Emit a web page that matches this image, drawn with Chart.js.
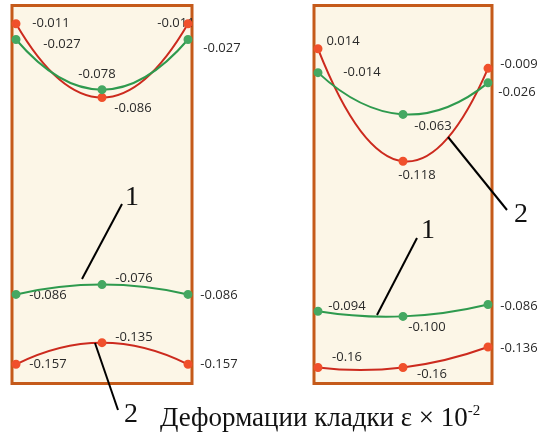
<!DOCTYPE html>
<html>
<head>
<meta charset="utf-8">
<script src="https://cdn.jsdelivr.net/npm/chart.js@4"></script>
<style>
  body { margin: 0; background: #fff; }
  #wrap { position: relative; width: 548px; height: 436px; overflow: hidden; }
  #leftChart { position: absolute; left: 0; top: 0; }
  #rightChart { position: absolute; left: 300px; top: 0; }
  #caption {
    position: absolute; left: 160px; top: 404px;
    font: 27px/27px "Liberation Serif", "Times New Roman", serif;
    color: #111; white-space: nowrap;
  }
  #caption .pow { position: relative; top: -11px; font-size: 15px; }
</style>
</head>
<body>
<div id="wrap">
  <canvas id="leftChart" width="300" height="436"></canvas>
  <canvas id="rightChart" width="248" height="436"></canvas>
  <div id="caption">Деформации кладки ε × 10<span class="pow">-2</span></div>
</div>
<script>
const positions = ['left', 'middle', 'right'];

// left wall, upper and lower section
const leftTopGreen = [-0.027, -0.078, -0.027];
const leftTopRed = [-0.011, -0.086, -0.011];
const leftBottomGreen = [-0.086, -0.076, -0.086];
const leftBottomRed = [-0.157, -0.135, -0.157];

// right wall, upper and lower section
const rightTopGreen = [-0.014, -0.063, -0.026];
const rightTopRed = [0.014, -0.118, -0.009];
const rightBottomGreen = [-0.094, -0.100, -0.086];
const rightBottomRed = [-0.16, -0.16, -0.136];

const GREEN = '#2e9a4e', GREEN_PT = '#45a862';
const RED = '#cc2a1e', RED_PT = '#f0502c';
const BORDER = '#c55a1a', PANEL = '#fcf6e7';

function series(data, line, point, axis, offsets, digits) {
    return {
        data: data,
        yAxisID: axis,
        borderColor: line,
        borderWidth: 2,
        pointBackgroundColor: point,
        pointBorderColor: point,
        pointRadius: 3.5,
        tension: 0.4,
        clip: false,
        labelOffsets: offsets,
        digits: digits || [3, 3, 3]
    };
}

// replace the spline handles with ones for the parabola through the three points
const parabolaPlugin = {
    id: 'parabola',
    beforeDatasetsDraw(chart) {
        chart.data.datasets.forEach(function(ds, i) {
            const meta = chart.getDatasetMeta(i);
            const pts = meta.data;
            if (pts.length !== 3) return;
            meta.dataset.updateControlPoints(chart.chartArea, 'x');
            const x0 = pts[0].x, x1 = pts[1].x, x2 = pts[2].x;
            const d1 = (pts[1].y - pts[0].y) / (x1 - x0);
            const d12 = (pts[2].y - pts[1].y) / (x2 - x1);
            const d2 = (d12 - d1) / (x2 - x0);
            const slope = function(x) { return d1 + d2 * ((x - x0) + (x - x1)); };
            for (let k = 0; k < 2; k++) {
                const a = pts[k], b = pts[k + 1];
                const h = (b.x - a.x) / 3;
                a.cp2x = a.x + h;
                a.cp2y = a.y + h * slope(a.x);
                b.cp1x = b.x - h;
                b.cp1y = b.y - h * slope(b.x);
            }
        });
    }
};

// panel frame + value labels, callout lines with numbers
const panelPlugin = {
    id: 'panel',
    beforeDatasetsDraw(chart, args, opts) {
        const ctx = chart.ctx;
        const a = chart.chartArea;
        ctx.save();
        ctx.fillStyle = PANEL;
        ctx.fillRect(a.left - 3, a.top - 1, a.width + 6, a.height + 2);
        ctx.strokeStyle = BORDER;
        ctx.lineWidth = 3;
        ctx.strokeRect(a.left - 4, a.top - 1.5, a.width + 8, a.height + 3);

        ctx.font = '13px "Open Sans", sans-serif';
        ctx.fillStyle = '#2a2a2a';
        ctx.textAlign = 'center';
        ctx.textBaseline = 'middle';
        chart.data.datasets.forEach(function(ds, i) {
            chart.getDatasetMeta(i).data.forEach(function(pt, j) {
                const off = ds.labelOffsets[j];
                ctx.fillText(ds.data[j].toFixed(ds.digits[j]), pt.x + off[0], pt.y + off[1]);
            });
        });
        ctx.restore();
    },
    afterDraw(chart, args, opts) {
        const ctx = chart.ctx;
        ctx.save();
        ctx.strokeStyle = '#000';
        ctx.lineWidth = 2;
        ctx.fillStyle = '#111';
        ctx.font = '28px "Liberation Serif", "Times New Roman", serif';
        ctx.textAlign = 'center';
        ctx.textBaseline = 'alphabetic';
        (opts.callouts || []).forEach(function(c) {
            ctx.beginPath();
            ctx.moveTo(c.from[0], c.from[1]);
            ctx.lineTo(c.to[0], c.to[1]);
            ctx.stroke();
            ctx.fillText(c.text, c.at[0], c.at[1]);
        });
        ctx.restore();
    }
};

function makeChart(id, datasets, topRange, padding, callouts) {
    new Chart(document.getElementById(id), {
        type: 'line',
        data: { labels: positions, datasets: datasets },
        options: {
            responsive: false,
            animation: false,
            layout: { padding: padding },
            plugins: {
                legend: { display: false },
                tooltip: { enabled: false },
                panel: { callouts: callouts }
            },
            scales: {
                x: { display: false },
                yTop: { display: false, min: topRange[0], max: topRange[1] },
                // lower section drawn 0.2 below the upper one
                yBottom: { display: false, min: topRange[0] + 0.2, max: topRange[1] + 0.2 }
            }
        },
        plugins: [panelPlugin, parabolaPlugin]
    });
}

makeChart('leftChart', [
    series(leftTopGreen, GREEN, GREEN_PT, 'yTop', [[46, 5], [-5, -15], [34, 9]]),
    series(leftTopRed, RED, RED_PT, 'yTop', [[35, 0], [31, 11], [-12, 0]]),
    series(leftBottomGreen, GREEN, GREEN_PT, 'yBottom', [[32, 1], [32, -6], [31, 1]]),
    series(leftBottomRed, RED, RED_PT, 'yBottom', [[32, 0], [32, -5], [31, 0]])
], [-0.375, 0.006], { left: 16, right: 112, top: 7, bottom: 54 }, [
    { from: [122, 204], to: [82, 279], text: '1', at: [132, 205] },
    { from: [95, 343], to: [118, 410], text: '2', at: [131, 422] }
]);

makeChart('rightChart', [
    series(rightTopGreen, GREEN, GREEN_PT, 'yTop', [[44, 0], [30, 12], [29, 9]]),
    series(rightTopRed, RED, RED_PT, 'yTop', [[25, -7], [14, 14], [31, -4]]),
    series(rightBottomGreen, GREEN, GREEN_PT, 'yBottom', [[29, -5], [24, 11], [31, 2]]),
    series(rightBottomRed, RED, RED_PT, 'yBottom', [[29, -10], [29, 7], [31, 1]], [2, 2, 3])
], [-0.377, 0.063], { left: 18, right: 60, top: 7, bottom: 54 }, [
    { from: [148, 137], to: [207, 210], text: '2', at: [221, 222] },
    { from: [117, 238], to: [77, 315], text: '1', at: [128, 238] }
]);
</script>
</body>
</html>
